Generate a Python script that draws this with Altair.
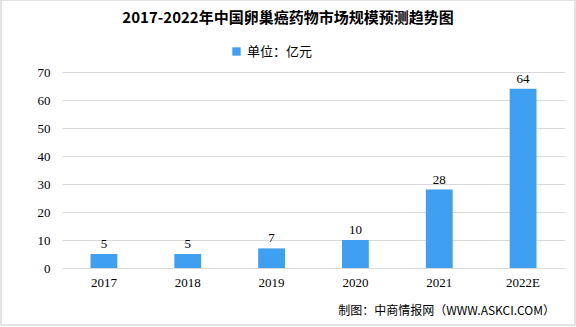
import altair as alt
import pandas as pd

years = ["2017", "2018", "2019", "2020", "2021", "2022E"]
values = [5, 5, 7, 10, 28, 64]
series_name = "单位：亿元"

df = pd.DataFrame({"year": years, "value": values, "series": [series_name] * len(years)})

base = alt.Chart(df).encode(
    x=alt.X("year:N", sort=years, title=None,
            scale=alt.Scale(paddingInner=0.68, paddingOuter=0.34),
            axis=alt.Axis(labelAngle=0, domain=False, ticks=False, grid=False, labelPadding=8,
                          labelFont="Liberation Serif", labelFontSize=13, labelColor="#000")),
    y=alt.Y("value:Q", title=None,
            scale=alt.Scale(domain=[0, 70]),
            axis=alt.Axis(values=[0, 10, 20, 30, 40, 50, 60, 70], domain=False, ticks=False,
                          labelPadding=12, gridColor="#d9d9d9",
                          labelFont="Liberation Serif", labelFontSize=13, labelColor="#000")),
)

bars = base.mark_bar(color="#3f9ff0").encode(
    color=alt.Color("series:N", scale=alt.Scale(range=["#3f9ff0"]),
                    legend=alt.Legend(title=None, orient="none", legendX=168, legendY=-27,
                                      symbolType="square", symbolSize=70,
                                      labelFont="Noto Sans CJK SC", labelFontSize=13,
                                      labelColor="#000"))
)

labels = base.mark_text(dy=-10, font="Liberation Serif", fontSize=13, color="#000").encode(
    text="value:Q"
)

title = alt.Chart(pd.DataFrame({"t": ["2017-2022年中国卵巢癌药物市场规模预测趋势图"]})).mark_text(
    align="center", baseline="middle", font="Noto Sans CJK SC", fontSize=15, fontWeight="bold",
    color="#000"
).encode(x=alt.value(226), y=alt.value(-54), text="t:N")

footer = alt.Chart(pd.DataFrame({"t": ["制图：中商情报网（WWW.ASKCI.COM）"]})).mark_text(
    align="right", baseline="middle", font="Noto Sans CJK SC", fontSize=12, color="#000"
).encode(x=alt.value(493), y=alt.value(239), text="t:N")

border = alt.Chart(pd.DataFrame({"a": [0]})).mark_rect(
    fill=None, stroke="#c8c8c8", strokeWidth=1
).encode(x=alt.value(-61), x2=alt.value(513), y=alt.value(-72), y2=alt.value(253))

chart = alt.layer(bars, labels, title, footer, border).properties(
    width=503, height=196,
    background="white",
    autosize=alt.AutoSizeParams(type="none"),
    padding={"left": 62, "top": 72, "right": 11, "bottom": 59},
).configure_view(
    stroke="transparent", strokeWidth=0, strokeOpacity=0
).configure_axis(
    domain=False, domainOpacity=0, domainColor="transparent", ticks=False
).configure_axisX(grid=False)

chart.save("out.html", embed_options={"renderer": "svg", "actions": False})
